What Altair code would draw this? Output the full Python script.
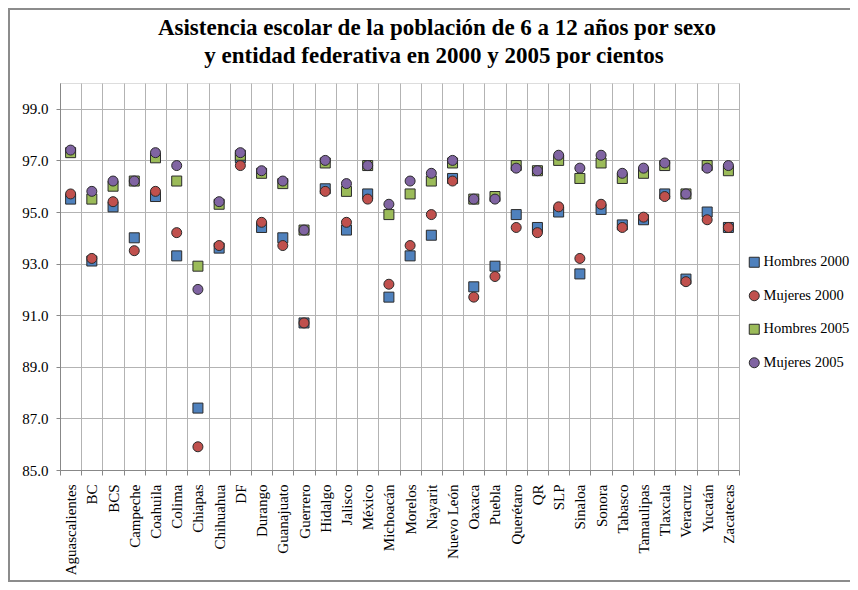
import altair as alt
import pandas as pd

states = ["Aguascalientes", "BC", "BCS", "Campeche", "Coahuila", "Colima", "Chiapas",
          "Chihuahua", "DF", "Durango", "Guanajuato", "Guerrero", "Hidalgo", "Jalisco",
          "México", "Michoacán", "Morelos", "Nayarit", "Nuevo León", "Oaxaca", "Puebla",
          "Querétaro", "QR", "SLP", "Sinaloa", "Sonora", "Tabasco", "Tamaulipas",
          "Tlaxcala", "Veracruz", "Yucatán", "Zacatecas"]

hombres_2000 = [95.5, 93.1, 95.2, 94.0, 95.6, 93.3, 87.4, 93.6, 97.1, 94.4, 94.0, 90.7,
                95.9, 94.3, 95.7, 91.7, 93.3, 94.1, 96.3, 92.1, 92.9, 94.9, 94.4, 95.0,
                92.6, 95.1, 94.5, 94.7, 95.7, 92.4, 95.0, 94.4]
mujeres_2000 = [95.7, 93.2, 95.4, 93.5, 95.8, 94.2, 85.9, 93.7, 96.8, 94.6, 93.7, 90.7,
                95.8, 94.6, 95.5, 92.2, 93.7, 94.9, 96.2, 91.7, 92.5, 94.4, 94.2, 95.2,
                93.2, 95.3, 94.4, 94.8, 95.6, 92.3, 94.7, 94.4]
hombres_2005 = [97.3, 95.5, 96.0, 96.2, 97.1, 96.2, 92.9, 95.3, 97.2, 96.5, 96.1, 94.3,
                96.9, 95.8, 96.8, 94.9, 95.7, 96.2, 96.9, 95.5, 95.6, 96.8, 96.6, 97.0,
                96.3, 96.9, 96.3, 96.5, 96.8, 95.7, 96.8, 96.6]
mujeres_2005 = [97.4, 95.8, 96.2, 96.2, 97.3, 96.8, 92.0, 95.4, 97.3, 96.6, 96.2, 94.3,
                97.0, 96.1, 96.8, 95.3, 96.2, 96.5, 97.0, 95.5, 95.5, 96.7, 96.6, 97.2,
                96.7, 97.2, 96.5, 96.7, 96.9, 95.7, 96.7, 96.8]

series_names = ["Hombres 2000", "Mujeres 2000", "Hombres 2005", "Mujeres 2005"]
series_colors = ["#4F81BD", "#C0504D", "#9BBB59", "#8064A2"]
series_shapes = ["square", "circle", "square", "circle"]
y_ticks = [85, 87, 89, 91, 93, 95, 97, 99]
title_lines = ["Asistencia escolar de la población de 6 a 12 años por sexo",
               "y entidad federativa en 2000 y 2005 por cientos"]

rows = []
for name, vals in zip(series_names, [hombres_2000, mujeres_2000, hombres_2005, mujeres_2005]):
    for s, v in zip(states, vals):
        rows.append({"estado": s, "serie": name, "valor": v})
df = pd.DataFrame(rows)

W, H = 679, 387
PAD_L, PAD_T, PAD_R, PAD_B = 52, 75, 111, 112
FONT = "Times New Roman, Liberation Serif, serif"
GRID = "#b3b3b3"

legend = alt.Legend(title=None, orient="none", legendX=687, legendY=172,
                    labelFont=FONT, labelFontSize=14.5, labelColor="#000000",
                    symbolSize=100, symbolStrokeColor="#2b2b2b",
                    symbolStrokeWidth=1, rowPadding=17.5, labelOffset=2, labelLimit=200)

points = alt.Chart(df).mark_point(
    filled=True, opacity=1, stroke="#2b2b2b", strokeWidth=1, size=100
).encode(
    x=alt.X("estado:N", sort=states,
            scale=alt.Scale(paddingInner=0, paddingOuter=0),
            axis=alt.Axis(title=None, labelAngle=270, grid=True, tickBand="extent",
                          gridColor=GRID, domainColor="#888888", tickColor="#888888",
                          tickSize=5, labelPadding=9, labelFont=FONT, labelFontSize=15,
                          labelColor="#000000", labelLimit=200)),
    y=alt.Y("valor:Q",
            scale=alt.Scale(domain=[85, 100], nice=False, zero=False),
            axis=alt.Axis(title=None, values=y_ticks, format=".1f", grid=True,
                          gridColor=GRID, domainColor="#888888", tickColor="#888888",
                          tickSize=4, labelPadding=8, labelFont=FONT, labelFontSize=15,
                          labelColor="#000000")),
    color=alt.Color("serie:N", sort=series_names,
                    scale=alt.Scale(domain=series_names, range=series_colors),
                    legend=legend),
    shape=alt.Shape("serie:N", sort=series_names,
                    scale=alt.Scale(domain=series_names, range=series_shapes),
                    legend=legend),
    order=alt.Order("orden:Q"),
).transform_calculate(
    orden="indexof(['Hombres 2000','Mujeres 2000','Hombres 2005','Mujeres 2005'], datum.serie)"
)

one = pd.DataFrame({"k": [0]})

frame = alt.Chart(one).mark_rect(
    fill=None, stroke="#8c8c8c", strokeWidth=2, clip=False
).encode(
    x=alt.value(-PAD_L + 1), x2=alt.value(W + PAD_R + 6),
    y=alt.value(-PAD_T + 1), y2=alt.value(H + PAD_B - 1),
)

title1 = alt.Chart(one).mark_text(
    font=FONT, fontSize=23, fontWeight="bold", color="#000000",
    align="center", baseline="alphabetic", clip=False
).encode(x=alt.value(377), y=alt.value(-48), text=alt.value(title_lines[0]))

title2 = alt.Chart(one).mark_text(
    font=FONT, fontSize=23, fontWeight="bold", color="#000000",
    align="center", baseline="alphabetic", clip=False
).encode(x=alt.value(374), y=alt.value(-20), text=alt.value(title_lines[1]))

chart = alt.layer(points, frame, title1, title2).properties(
    width=W, height=H,
    autosize=alt.AutoSizeParams(type="none"),
    padding={"left": PAD_L, "top": PAD_T, "right": PAD_R, "bottom": PAD_B},
).configure_view(
    stroke=GRID, strokeWidth=1
).configure(background="#ffffff")

chart.save("out.html", embed_options={"renderer": "svg", "actions": False})
